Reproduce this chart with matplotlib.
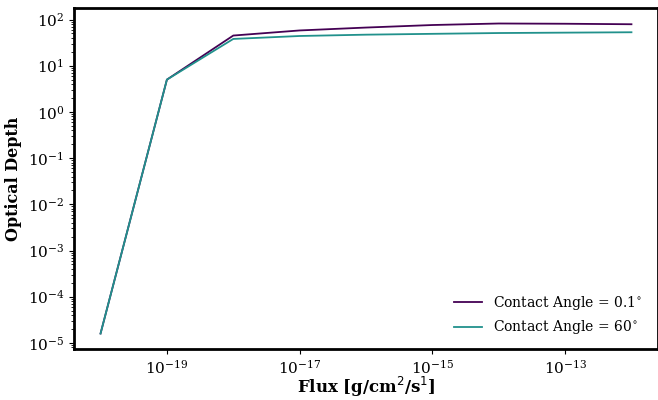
import matplotlib
matplotlib.use("Agg")
import matplotlib.pyplot as plt
from matplotlib.ticker import NullLocator

plt.rcParams['font.family'] = ['DejaVu Serif']

flux = [1e-20, 1e-19, 1e-18, 1e-17, 1e-16, 1e-15, 1e-14, 1e-13, 1e-12]
tau_01 = [1.6e-5, 5.0, 45, 58, 67, 76, 82, 81, 79]
tau_60 = [1.6e-5, 5.0, 38, 44, 47, 49, 51, 52, 53]
xticks = [1e-19, 1e-17, 1e-15, 1e-13]

fig = plt.figure(figsize=(6.58, 4.0), dpi=100)
ax = fig.add_axes([74/658, 51/400, 584/658, 341/400])

ax.plot(flux, tau_01, color='#440154', lw=1.3, label=r'Contact Angle = 0.1$^{\circ}$')
ax.plot(flux, tau_60, color='#21918c', lw=1.3, label=r'Contact Angle = 60$^{\circ}$')

ax.set_xscale('log')
ax.set_yscale('log')
ax.set_xticks(xticks)
ax.xaxis.set_minor_locator(NullLocator())
ax.set_xlabel(r'Flux [g/cm$^2$/s$^1$]', fontsize=12, fontweight='bold', labelpad=-1)
ax.set_ylabel('Optical Depth', fontsize=11.5, fontweight='bold')
ax.tick_params(labelsize=11)
for s in ['left', 'bottom', 'top', 'right']:
    ax.spines[s].set_linewidth(2)

ax.legend(loc='lower right', frameon=False, fontsize=10, bbox_to_anchor=(1 - 3/584, 0))

fig.savefig('out.png', dpi=100)
